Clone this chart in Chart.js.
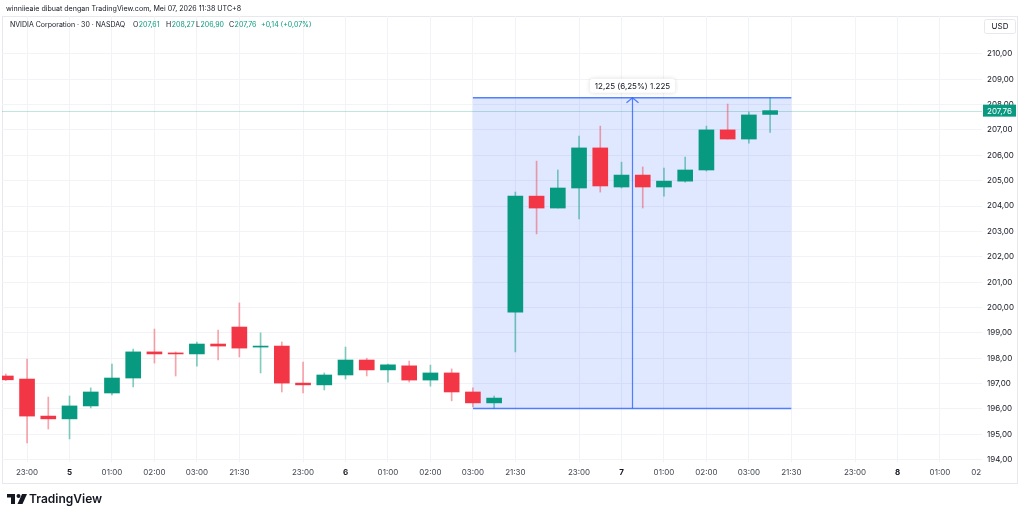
<!DOCTYPE html>
<html>
<head>
<meta charset="utf-8">
<script src="https://cdn.jsdelivr.net/npm/chart.js@4.4.1/dist/chart.umd.min.js"></script>
<style>
  html, body { margin: 0; padding: 0; background: #fff; }
  #wrap { width: 1024px; height: 517px; }
</style>
</head>
<body>
<div id="wrap"><canvas id="chart" width="1024" height="517"></canvas></div>
<script>
// NVDA 30m candles, index 0 = 22:30 (May 4 session)
const opens  = [197.30, 197.18, 195.72, 195.61, 196.12, 196.63, 197.22, 198.25, 198.19, 198.17, 198.56, 199.23, 198.44,
                198.48, 197.02, 196.95, 197.34, 197.93, 197.54, 197.70, 197.14, 197.42, 196.67, 196.24,
                199.82, 204.39, 203.92, 204.71, 206.29, 204.75, 205.22, 204.75, 204.98, 205.42, 207.00, 206.64, 207.61];
const highs  = [197.38, 197.97, 196.47, 196.51, 196.83, 197.77, 198.36, 199.15, 198.25, 198.64, 199.11, 200.18, 199.00,
                198.64, 197.85, 197.42, 198.44, 198.00, 197.77, 197.89, 197.73, 197.58, 196.83, 196.51,
                204.55, 205.77, 205.42, 206.76, 207.15, 205.73, 205.54, 205.50, 205.93, 207.15, 208.02, 207.70, 208.27];
const lows   = [197.12, 194.66, 195.21, 194.82, 196.04, 196.55, 196.87, 197.81, 197.30, 197.69, 197.93, 198.05, 197.42,
                196.67, 196.63, 196.75, 197.18, 197.30, 197.06, 197.06, 196.90, 196.32, 196.08, 196.02,
                198.25, 202.90, 203.92, 203.49, 204.55, 204.71, 203.92, 204.39, 204.94, 205.38, 206.64, 206.48, 206.90];
const closes = [197.15, 195.72, 195.61, 196.12, 196.67, 197.22, 198.25, 198.17, 198.17, 198.56, 198.48, 198.40, 198.47,
                197.02, 196.95, 197.34, 197.93, 197.54, 197.74, 197.14, 197.42, 196.67, 196.24, 196.43,
                204.39, 203.92, 204.71, 206.29, 204.79, 205.22, 204.75, 204.98, 205.42, 207.00, 206.64, 207.59, 207.76];

const xTickIdx    = [1, 3, 5, 7, 9, 11, 14, 16, 18, 20, 22, 24, 27, 29, 31, 33, 35, 37, 40, 42, 44, 46];
const xTickLabels = ['23:00', '5', '01:00', '02:00', '03:00', '21:30', '23:00', '6', '01:00', '02:00', '03:00', '21:30',
                     '23:00', '7', '01:00', '02:00', '03:00', '21:30', '23:00', '8', '01:00', '02:00'];
const yTicks = [194, 195, 196, 197, 198, 199, 200, 201, 202, 203, 204, 205, 206, 207, 208, 209, 210];

// measure tool: from bar 22 to 37, low 196,02 -> high 208,27
const measureFrom = 22, measureTo = 37, measureLow = 196.02, measureHigh = 208.27;
const measureText = '12,25 (6,25%) 1.225';
const lastPrice = 207.76;

const UP = '#089981', DOWN = '#f23645';
const FONT = 'Inter, "Noto Sans", sans-serif';
const fmt = v => v.toFixed(2).replace('.', ',');

const isUp = i => closes[i] >= opens[i];
const bodyColors = opens.map((o, i) => isUp(i) ? UP : DOWN);
const wickColors = opens.map((o, i) => isUp(i) ? 'rgba(8,153,129,0.5)' : 'rgba(242,54,69,0.45)');

function roundRect(ctx, x, y, w, h, r) {
    ctx.beginPath();
    ctx.moveTo(x + r, y);
    ctx.arcTo(x + w, y, x + w, y + h, r);
    ctx.arcTo(x + w, y + h, x, y + h, r);
    ctx.arcTo(x, y + h, x, y, r);
    ctx.arcTo(x, y, x + w, y, r);
    ctx.closePath();
}

// Frame, header texts, logo
const framePlugin = {
    id: 'frame',
    beforeDraw(chart) {
        const { ctx } = chart;
        ctx.save();
        ctx.fillStyle = '#fff';
        ctx.fillRect(0, 0, chart.width, chart.height);
        ctx.strokeStyle = '#e6e8ee';
        ctx.lineWidth = 1;
        ctx.strokeRect(2.5, 16.5, 1015, 467);
        ctx.restore();
    },
    afterDraw(chart) {
        const { ctx } = chart;
        ctx.save();
        ctx.textBaseline = 'middle';
        ctx.textAlign = 'left';
        ctx.font = '7.1px ' + FONT;
        ctx.fillStyle = '#131722';
        ctx.fillText('winniieaie dibuat dengan TradingView.com, Mei 07, 2026 11:38 UTC+8', 6, 9);

        // legend line (x positions as in the screenshot)
        ctx.font = '7px ' + FONT;
        ctx.fillStyle = '#131722';
        ctx.fillText('NVIDIA Corporation · 30 · NASDAQ', 10, 25);
        const ohlc = [['O', '207,61', 133], ['H', '208,27', 166], ['L', '206,90', 196], ['C', '207,76', 229]];
        ohlc.forEach(([k, v, px]) => {
            ctx.fillStyle = '#131722';
            ctx.fillText(k, px, 25);
            ctx.fillStyle = UP;
            ctx.fillText(v, px + ctx.measureText(k).width + 0.5, 25);
        });
        ctx.fillStyle = UP;
        ctx.fillText('+0,14 (+0,07%)', 261, 25);

        // logo
        ctx.fillStyle = '#131722';
        ctx.fillRect(7, 494, 8, 3.5);
        ctx.fillRect(11, 494, 4, 10);
        ctx.beginPath();
        ctx.arc(18.5, 496, 2, 0, Math.PI * 2);
        ctx.fill();
        ctx.beginPath();
        ctx.moveTo(22, 494); ctx.lineTo(27, 494); ctx.lineTo(22.5, 504); ctx.lineTo(17.5, 504);
        ctx.closePath();
        ctx.fill();
        ctx.font = '600 12px ' + FONT;
        ctx.fillText('TradingView', 29, 499.5);
        ctx.restore();
    }
};

// Measure box, price line, axis badges, x labels
const overlayPlugin = {
    id: 'overlay',
    beforeDatasetsDraw(chart) {
        const { ctx, scales: { x, y } } = chart;
        const x0 = x.getPixelForValue(measureFrom), x1 = x.getPixelForValue(measureTo);
        const yt = y.getPixelForValue(measureHigh), yb = y.getPixelForValue(measureLow);
        ctx.save();
        ctx.fillStyle = 'rgba(41,98,255,0.15)';
        ctx.fillRect(x0, yt, x1 - x0, yb - yt);
        // last price line
        const yp = Math.round(y.getPixelForValue(lastPrice)) + 0.5;
        ctx.strokeStyle = 'rgba(8,153,129,0.25)';
        ctx.lineWidth = 1;
        ctx.beginPath();
        ctx.moveTo(chart.chartArea.left, yp);
        ctx.lineTo(chart.chartArea.right, yp);
        ctx.stroke();
        ctx.restore();
    },
    afterDatasetsDraw(chart) {
        const { ctx, chartArea, scales: { x, y } } = chart;
        const x0 = x.getPixelForValue(measureFrom), x1 = x.getPixelForValue(measureTo);
        const xm = Math.round(x.getPixelForValue((measureFrom + measureTo) / 2)) + 0.5;
        const yt = y.getPixelForValue(measureHigh), yb = y.getPixelForValue(measureLow);
        ctx.save();
        ctx.strokeStyle = 'rgba(41,98,255,0.8)';
        ctx.lineWidth = 1.5;
        ctx.beginPath();
        ctx.moveTo(x0, yt); ctx.lineTo(x1, yt);
        ctx.moveTo(x0, yb); ctx.lineTo(x1, yb);
        ctx.stroke();
        ctx.lineWidth = 1.2;
        ctx.beginPath();
        ctx.moveTo(xm, yb); ctx.lineTo(xm, yt);
        ctx.moveTo(xm - 6, yt + 5); ctx.lineTo(xm, yt); ctx.lineTo(xm + 6, yt + 5);
        ctx.stroke();

        // measure label
        ctx.font = '8px ' + FONT;
        const tw = ctx.measureText(measureText).width;
        const bw = tw + 10, bh = 14, by = yt - 19;
        ctx.shadowColor = 'rgba(0,0,0,0.15)';
        ctx.shadowBlur = 4;
        ctx.fillStyle = '#fff';
        roundRect(ctx, xm - bw / 2, by, bw, bh, 3);
        ctx.fill();
        ctx.shadowBlur = 0;
        ctx.fillStyle = '#131722';
        ctx.textAlign = 'center';
        ctx.textBaseline = 'middle';
        ctx.fillText(measureText, xm, by + bh / 2 + 0.5);

        // price badge
        const yp = y.getPixelForValue(lastPrice);
        ctx.fillStyle = UP;
        ctx.fillRect(chartArea.right + 1, yp - 6, 33, 12);
        ctx.fillStyle = '#fff';
        ctx.textAlign = 'left';
        ctx.fillText(fmt(lastPrice), chartArea.right + 5, yp + 0.5);

        // USD badge
        ctx.fillStyle = '#fff';
        ctx.strokeStyle = '#e6e8ee';
        ctx.lineWidth = 1;
        roundRect(ctx, 984.5, 19.5, 31, 14, 2);
        ctx.fill();
        ctx.stroke();
        ctx.fillStyle = '#131722';
        ctx.textAlign = 'center';
        ctx.fillText('USD', 1000, 27);

        // time axis labels (clipped at price scale)
        ctx.beginPath();
        ctx.rect(chartArea.left, chartArea.bottom, chartArea.right - chartArea.left, 25);
        ctx.clip();
        xTickIdx.forEach((idx, k) => {
            const lbl = xTickLabels[k];
            ctx.font = (lbl.length === 1 ? '700 ' : '') + '8px ' + FONT;
            ctx.fillStyle = lbl.length === 1 ? '#131722' : '#434651';
            ctx.fillText(lbl, x.getPixelForValue(idx), 473);
        });
        ctx.restore();
    }
};

const ctx = document.getElementById('chart').getContext('2d');
new Chart(ctx, {
    type: 'bar',
    data: {
        datasets: [
            {
                label: 'body',
                data: opens.map((o, i) => ({ x: i, y: [o, closes[i]] })),
                backgroundColor: bodyColors,
                barThickness: 15,
                minBarLength: 1,
                grouped: false,
                order: 1
            },
            {
                label: 'wick',
                data: lows.map((l, i) => ({ x: i, y: [l, highs[i]] })),
                backgroundColor: wickColors,
                barThickness: 1,
                grouped: false,
                order: 2
            }
        ]
    },
    options: {
        responsive: false,
        animation: false,
        devicePixelRatio: 1,
        layout: { padding: { left: 2, top: 16, right: 7, bottom: 34 } },
        plugins: { legend: { display: false }, tooltip: { enabled: false } },
        scales: {
            x: {
                type: 'linear',
                min: -0.18,
                max: 45.98,
                offset: false,
                grid: { color: '#f2f3f6', offset: false, drawTicks: false },
                border: { display: false },
                ticks: { display: false },
                afterBuildTicks: axis => { axis.ticks = xTickIdx.filter(v => v <= 45.98).map(v => ({ value: v })); },
                afterFit: axis => { axis.height = 21; }
            },
            y: {
                position: 'right',
                min: 193.91,
                max: 211.49,
                grid: { color: '#f2f3f6', drawTicks: false },
                border: { display: false },
                ticks: {
                    padding: 5,
                    color: '#131722',
                    font: { family: FONT, size: 8 },
                    callback: v => fmt(v)
                },
                afterBuildTicks: axis => { axis.ticks = yTicks.map(v => ({ value: v })); },
                afterFit: axis => { axis.width = 35; }
            }
        }
    },
    plugins: [framePlugin, overlayPlugin]
});
</script>
</body>
</html>
